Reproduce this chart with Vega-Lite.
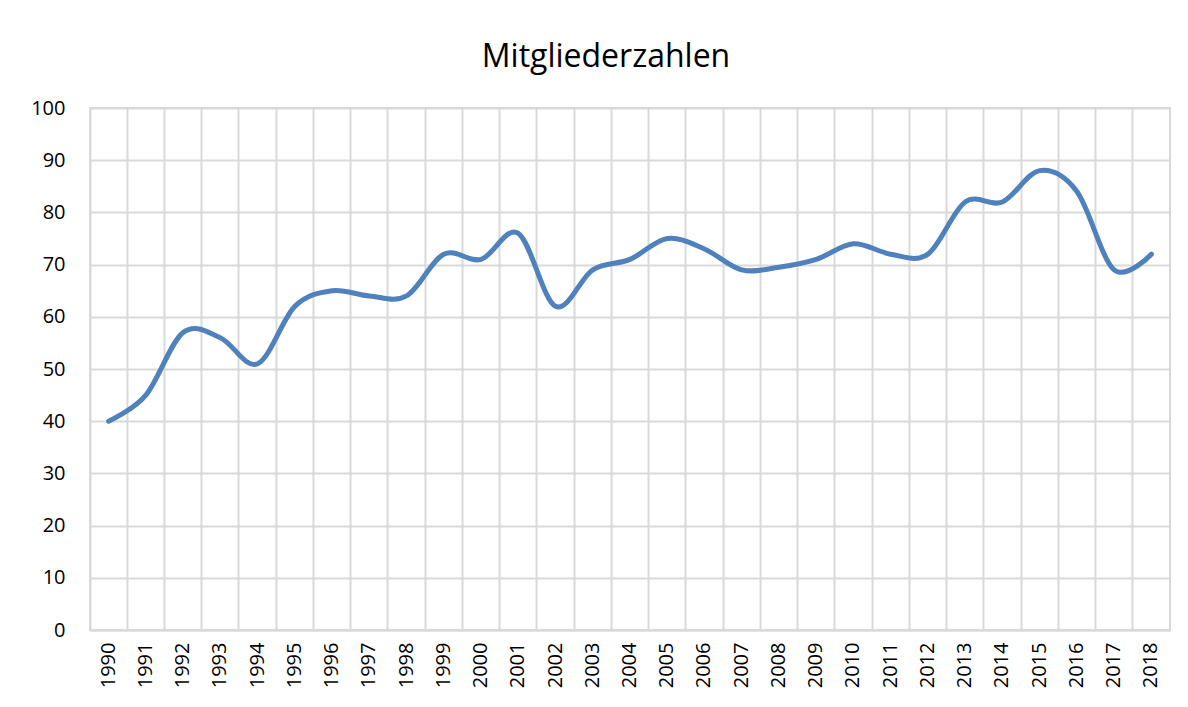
{
  "$schema": "https://vega.github.io/schema/vega-lite/v6.json",
  "autosize": "none",
  "width": 1080,
  "height": 522,
  "padding": {"left": 90, "top": 108, "right": 18, "bottom": 77},
  "background": "white",
  "title": {
    "text": "Mitgliederzahlen",
    "font": "Open Sans",
    "fontSize": 32,
    "fontWeight": "normal",
    "color": "#000000",
    "anchor": "middle",
    "dx": -24,
    "dy": 42,
    "baseline": "alphabetic",
    "offset": 41
  },
  "data": {
    "values": [
      {"Jahr": "1990", "Mitglieder": 40},
      {"Jahr": "1991", "Mitglieder": 45},
      {"Jahr": "1992", "Mitglieder": 57},
      {"Jahr": "1993", "Mitglieder": 56},
      {"Jahr": "1994", "Mitglieder": 51},
      {"Jahr": "1995", "Mitglieder": 62},
      {"Jahr": "1996", "Mitglieder": 65},
      {"Jahr": "1997", "Mitglieder": 64},
      {"Jahr": "1998", "Mitglieder": 64},
      {"Jahr": "1999", "Mitglieder": 72},
      {"Jahr": "2000", "Mitglieder": 71},
      {"Jahr": "2001", "Mitglieder": 76},
      {"Jahr": "2002", "Mitglieder": 62},
      {"Jahr": "2003", "Mitglieder": 69},
      {"Jahr": "2004", "Mitglieder": 71},
      {"Jahr": "2005", "Mitglieder": 75},
      {"Jahr": "2006", "Mitglieder": 73},
      {"Jahr": "2007", "Mitglieder": 69},
      {"Jahr": "2008", "Mitglieder": 69.5},
      {"Jahr": "2009", "Mitglieder": 71},
      {"Jahr": "2010", "Mitglieder": 74},
      {"Jahr": "2011", "Mitglieder": 72},
      {"Jahr": "2012", "Mitglieder": 72},
      {"Jahr": "2013", "Mitglieder": 82},
      {"Jahr": "2014", "Mitglieder": 82},
      {"Jahr": "2015", "Mitglieder": 88},
      {"Jahr": "2016", "Mitglieder": 84},
      {"Jahr": "2017", "Mitglieder": 69},
      {"Jahr": "2018", "Mitglieder": 72}
    ]
  },
  "mark": {
    "type": "line",
    "interpolate": "cardinal",
    "tension": 0,
    "color": "#4f81bd",
    "strokeWidth": 5,
    "strokeCap": "round",
    "strokeJoin": "round"
  },
  "encoding": {
    "x": {
      "field": "Jahr",
      "type": "ordinal",
      "scale": {"type": "band", "paddingInner": 0, "paddingOuter": 0},
      "axis": {
        "title": null,
        "bandPosition": 0,
        "labelAngle": -90,
        "labelAlign": "right",
        "labelBaseline": "middle",
        "labelFont": "Open Sans",
        "labelFontSize": 20,
        "labelColor": "#000000",
        "labelPadding": 12,
        "ticks": false,
        "domainColor": "#d9d9d9",
        "domainWidth": 2,
        "grid": true,
        "gridColor": "#d9d9d9",
        "gridWidth": 2
      }
    },
    "y": {
      "field": "Mitglieder",
      "type": "quantitative",
      "scale": {"domain": [0, 100]},
      "axis": {
        "title": null,
        "values": [0, 10, 20, 30, 40, 50, 60, 70, 80, 90, 100],
        "labelFont": "Open Sans",
        "labelFontSize": 20,
        "labelColor": "#000000",
        "labelPadding": 25,
        "ticks": false,
        "domain": false,
        "grid": true,
        "gridColor": "#d9d9d9",
        "gridWidth": 2
      }
    }
  },
  "config": {
    "view": {"stroke": "#d9d9d9", "strokeWidth": 2}
  }
}
